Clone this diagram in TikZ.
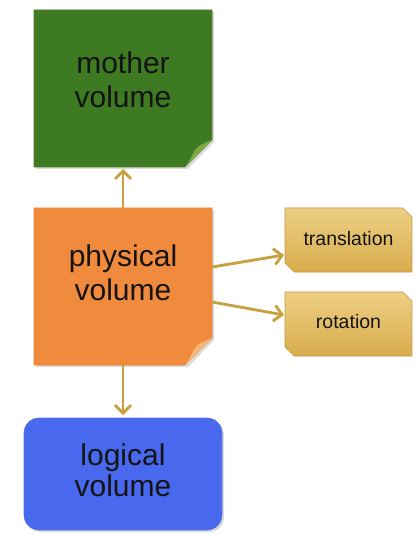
\documentclass[tikz,border=0pt]{standalone}
\usepackage{fontspec}
\setmainfont{Liberation Sans}
\usetikzlibrary{arrows.meta}
\definecolor{mgreen}{HTML}{3D7A22}
\definecolor{mgreenfold}{HTML}{7FA845}
\definecolor{porange}{HTML}{F08A3C}
\definecolor{porangefold}{HTML}{F7B577}
\definecolor{lblue}{HTML}{4868EE}
\definecolor{lblueb}{HTML}{5A78D8}
\definecolor{goldtop}{HTML}{EDCF84}
\definecolor{goldbot}{HTML}{D8AC4C}
\definecolor{goldb}{HTML}{C49A44}
\definecolor{arrowc}{HTML}{C9A040}
\definecolor{txtc}{HTML}{141414}
\definecolor{shadowc}{HTML}{DADADA}
\tikzset{
  area/.style={inner sep=0pt, outer sep=0pt},
  bigtxt/.style={align=center, font=\fontsize{30}{34}\selectfont, text=txtc, inner sep=0pt},
  smalltxt/.style={align=center, font=\fontsize{19.5}{22}\selectfont, text=txtc, inner sep=0pt},
  conn/.style={arrowc, line width=2.8pt, -{Straight Barb[length=8pt,width=16pt,line width=2.8pt]}},
}
\begin{document}
\begin{tikzpicture}[x=1pt,y=-1pt]
\useasboundingbox (0,0) rectangle (414,534);
\fill[white] (0,0) rectangle (414,534);

% mother volume (sticky note)
\fill[shadowc] (36,12) -- (214,12) -- (214,142) -- (188,169) -- (36,169) -- cycle;
\fill[mgreen, draw=mgreen!80!brown, line width=0.6pt] (34,10) -- (212,10) -- (212,140) -- (185,167) -- (34,167) -- cycle;
\fill[mgreenfold] (212,140) .. controls (204,143) and (199,145) .. (195,150) .. controls (191,157) and (189,162) .. (185,167) -- cycle;
\node[area, minimum width=178pt, minimum height=157pt] (mother) at (123,88.5) {};
\node[bigtxt] (mothertxt) at ([yshift=9pt]mother.center) {mother\\volume};

% physical volume (sticky note)
\fill[shadowc] (36,210) -- (214,210) -- (214,340) -- (188,367) -- (36,367) -- cycle;
\fill[porange, draw=porange!85!brown, line width=0.6pt] (34,208) -- (212,208) -- (212,338) -- (185,365) -- (34,365) -- cycle;
\fill[porangefold] (212,338) .. controls (204,341) and (199,343) .. (195,348) .. controls (191,355) and (189,360) .. (185,365) -- cycle;
\node[area, minimum width=178pt, minimum height=157pt] (phys) at (123,286.5) {};
\node[bigtxt] (phystxt) at ([yshift=14pt]phys.center) {physical\\volume};

% logical volume
\fill[shadowc, rounded corners=15pt] (26,420) rectangle (224,532);
\fill[lblue, draw=lblueb, line width=0.6pt, rounded corners=15pt] (24,418) rectangle (222,530);
\node[area, minimum width=198pt, minimum height=112pt] (logical) at (123,474) {};
\node[bigtxt, font=\fontsize{30}{31}\selectfont] (logtxt) at ([yshift=4pt]logical.center) {logical\\volume};

% translation
\shade[top color=goldtop, bottom color=goldbot, draw=goldb, line width=0.6pt]
  (285,208) -- (403,208) -- (412,217) -- (412,272) -- (294,272) -- (285,263) -- cycle;
\node[area, minimum width=127pt, minimum height=64pt] (trans) at (348.5,240) {};
\node[smalltxt] (transtxt) at ([yshift=1.5pt]trans.center) {translation};

% rotation
\shade[top color=goldtop, bottom color=goldbot, draw=goldb, line width=0.6pt]
  (285,292) -- (403,292) -- (412,301) -- (412,356) -- (294,356) -- (285,347) -- cycle;
\node[area, minimum width=127pt, minimum height=64pt] (rot) at (348.5,324) {};
\node[smalltxt] (rottxt) at ([yshift=2pt]rot.center) {rotation};

% connectors
\draw[conn] (phys.north) -- ([yshift=-2pt]mother.south);
\draw[conn] (phys.south) -- ([yshift=3pt]logical.north);
\draw[conn] ([yshift=19.5pt]phys.east) -- ([xshift=-1pt,yshift=-15pt]trans.west);
\draw[conn] ([yshift=-15.5pt]phys.east) -- ([xshift=-1pt,yshift=9pt]rot.west);
\end{tikzpicture}
\end{document}
